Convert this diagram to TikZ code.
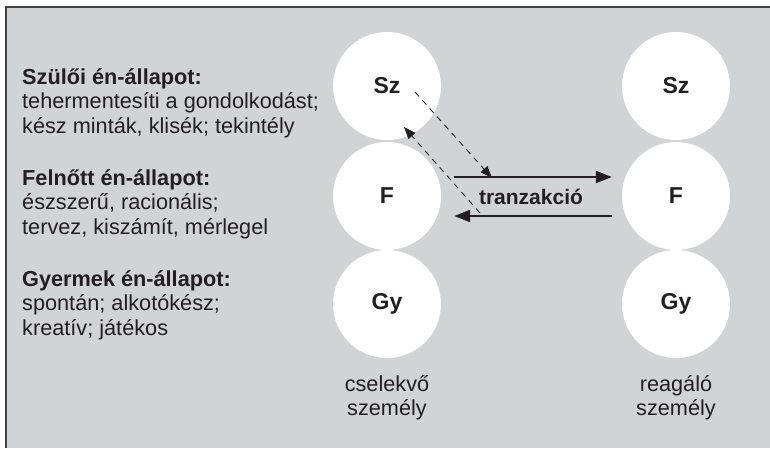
\documentclass[tikz,border=0pt]{standalone}
\usepackage{fontspec}
\setmainfont{Liberation Sans}
\usetikzlibrary{positioning,arrows.meta}
\definecolor{panelgray}{HTML}{D1D3D4}
\definecolor{inkgray}{HTML}{231F20}
\begin{document}
\begin{tikzpicture}[x=1pt,y=-1pt,font=\fontsize{21.7}{24.5}\selectfont,text=inkgray,
state/.style={circle, fill=white, minimum size=108pt, inner sep=0pt, font=\fontsize{23}{24.5}\selectfont\bfseries},
desc/.style={anchor=base west, align=left, inner sep=0pt},
who/.style={align=center, inner sep=0pt},
tarrow/.style={draw=inkgray, line width=2pt, -{Triangle[length=16pt,width=12pt]}},
darrow/.style={draw=inkgray, line width=0.9pt, dash pattern=on 6pt off 5pt, -{Triangle[length=12pt,width=9pt]}}]
\useasboundingbox (0,0) rectangle (770,448);
\fill[panelgray] (6,7) rectangle (770,448);
\draw[line width=2pt, inkgray!85] (6,448) -- (6,7) -- (770,7);
% left text (base = last line)
\node[desc] (parent) at (22,133) {\textbf{Szülői én-állapot:}\\tehermentesíti a gondolkodást;\\kész minták, klisék; tekintély};
\node[desc] (adult) at (22,234) {\textbf{Felnőtt én-állapot:}\\észszerű, racionális;\\tervez, kiszámít, mérlegel};
\node[desc] (child) at (22,335) {\textbf{Gyermek én-állapot:}\\spontán; alkotókész;\\kreatív; játékos};
% ego states
\node[state] (Szl) at (387,86) {Sz};
\node[state] (Fl) at (387,196) {F};
\node[state] (Gyl) at (387,304) {Gy};
\node[state] (Szr) at (676,86) {Sz};
\node[state] (Fr) at (676,196) {F};
\node[state] (Gyr) at (676,304) {Gy};
\node[who, below=17pt of Gyl] (actor) {cselekvő\\személy};
\node[who, below=17pt of Gyr] (reactor) {reagáló\\személy};
% transactions
\draw[tarrow, shorten <=13pt, shorten >=10pt] ([yshift=19pt]Fl.east) -- ([yshift=19pt]Fr.west);
\draw[tarrow, shorten <=10pt, shorten >=13pt] ([yshift=-20pt]Fr.west) -- ([yshift=-20pt]Fl.east);
\node[font=\fontsize{21}{24.5}\selectfont\bfseries, inner sep=0pt] (trans) at (531,197) {tranzakció};
\draw[darrow] ([shift={(28,6)}]Szl.center) -- ([shift={(105,-18)}]Fl.center);
\draw[darrow] ([shift={(93,17)}]Fl.center) -- ([shift={(17,41)}]Szl.center);
\end{tikzpicture}
\end{document}
